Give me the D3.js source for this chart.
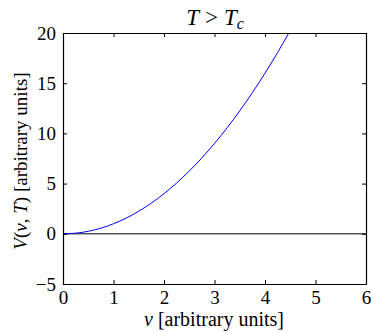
<!DOCTYPE html>
<html>
<head>
<meta charset="utf-8">
<script src="https://cdn.jsdelivr.net/npm/d3@7"></script>
<style>
  html, body { margin: 0; padding: 0; background: #fff; }
  svg { display: block; }
  text { font-family: "Liberation Serif", "DejaVu Serif", serif; fill: #000; }
</style>
</head>
<body>
<svg id="chart" width="371" height="332"></svg>
<script>
// Potential V(v, T) above the critical temperature
const vValues = [0, 0.25, 0.5, 0.75, 1, 1.25, 1.5, 1.75, 2, 2.25, 2.5, 2.75, 3, 3.25, 3.5, 3.75, 4, 4.25, 4.5];
const potential = [0, 0.06, 0.25, 0.56, 1.0, 1.56, 2.25, 3.06, 4.0, 5.06, 6.25, 7.56, 9.0, 10.56, 12.25, 14.06, 16.0, 18.06, 20.25];
const xTicks = [0, 1, 2, 3, 4, 5, 6];
const yTicks = [-5, 0, 5, 10, 15, 20];
const xDomain = [0, 6];
const yDomain = [-5, 20];

const margin = { left: 63, right: 5, top: 33, bottom: 48 };
const W = 371, H = 332;
const svg = d3.select("#chart");
const iw = W - margin.left - margin.right;
const ih = H - margin.top - margin.bottom;

const x = d3.scaleLinear().domain(xDomain).range([margin.left, margin.left + iw]);
const y = d3.scaleLinear().domain(yDomain).range([margin.top + ih, margin.top]);

svg.append("defs").append("clipPath").attr("id", "plot-clip")
  .append("rect").attr("x", x(xDomain[0])).attr("y", y(yDomain[1]))
  .attr("width", iw).attr("height", ih);

// zero line
svg.append("line")
  .attr("x1", x(xDomain[0])).attr("x2", x(xDomain[1]))
  .attr("y1", y(0)).attr("y2", y(0))
  .attr("stroke", "#000").attr("stroke-width", 1);

// curve
const line = d3.line()
  .x((d, i) => x(vValues[i]))
  .y(d => y(d))
  .curve(d3.curveNatural);
svg.append("path")
  .datum(potential)
  .attr("clip-path", "url(#plot-clip)")
  .attr("fill", "none")
  .attr("stroke", "#0000ff")
  .attr("stroke-width", 1)
  .attr("d", line);

// axes with inward ticks on all four sides
const tickLen = 4;
const styleAxis = g => {
  g.select(".domain").attr("stroke", "#000").attr("stroke-width", 1.2);
  g.selectAll(".tick line").attr("stroke", "#000").attr("stroke-width", 1);
};

svg.append("g").attr("transform", `translate(0,${y(yDomain[0])})`)
  .call(d3.axisBottom(x).tickValues(xTicks).tickSizeInner(-tickLen).tickSizeOuter(0).tickPadding(6).tickFormat(d3.format("d")))
  .call(styleAxis)
  .call(g => g.selectAll("text").attr("font-size", 19).attr("font-family", "Liberation Serif").attr("dy", "0.72em"));

svg.append("g").attr("transform", `translate(0,${y(yDomain[1])})`)
  .call(d3.axisTop(x).tickValues(xTicks).tickSizeInner(-tickLen).tickSizeOuter(0).tickFormat(""))
  .call(styleAxis);

svg.append("g").attr("transform", `translate(${x(xDomain[0])},0)`)
  .call(d3.axisLeft(y).tickValues(yTicks).tickSizeInner(-tickLen).tickSizeOuter(0).tickPadding(7)
    .tickFormat(d => d < 0 ? "\u2212" + Math.abs(d) : String(d)))
  .call(styleAxis)
  .call(g => g.selectAll("text").attr("font-size", 19).attr("font-family", "Liberation Serif"));

svg.append("g").attr("transform", `translate(${x(xDomain[1])},0)`)
  .call(d3.axisRight(y).tickValues(yTicks).tickSizeInner(-tickLen).tickSizeOuter(0).tickFormat(""))
  .call(styleAxis);

// title
const title = svg.append("text")
  .attr("x", 215).attr("y", 25)
  .attr("text-anchor", "middle").attr("font-size", 23);
title.append("tspan").attr("font-style", "italic").text("T");
title.append("tspan").attr("dx", 6).text(">");
title.append("tspan").attr("dx", 6).attr("font-style", "italic").text("T");
title.append("tspan").attr("font-style", "italic").attr("font-size", 16).attr("dy", 4).text("c");

// x-axis label
const xl = svg.append("text")
  .attr("x", 214).attr("y", 326)
  .attr("text-anchor", "middle").attr("font-size", 20);
xl.append("tspan").attr("font-style", "italic").text("v");
xl.append("tspan").text(" [arbitrary units]");

// y-axis label
const yl = svg.append("text")
  .attr("transform", `translate(27,161) rotate(-90)`)
  .attr("text-anchor", "middle").attr("font-size", 19);
yl.append("tspan").attr("font-style", "italic").text("V");
yl.append("tspan").text("(");
yl.append("tspan").attr("font-style", "italic").text("v");
yl.append("tspan").text(", ");
yl.append("tspan").attr("font-style", "italic").text("T");
yl.append("tspan").text(") [arbitrary units]");
</script>
</body>
</html>
